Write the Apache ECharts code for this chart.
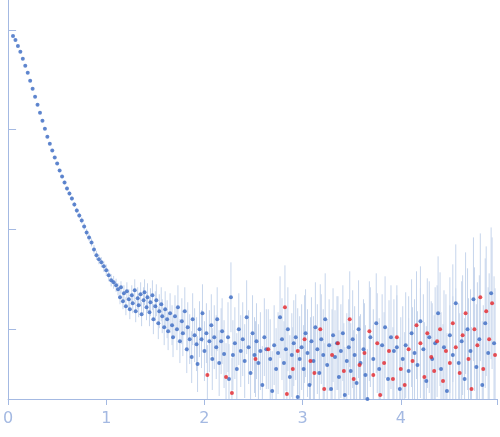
<!DOCTYPE html>
<html><head><meta charset="utf-8">
<script src="https://cdn.jsdelivr.net/npm/echarts@6/dist/echarts.min.js"></script>
<style>html,body{margin:0;padding:0;background:#fff}#c{width:500px;height:437px}</style>
</head><body><div id="c"></div>
<script>
const xTicks = [0,1,2,3,4];
const yTickValues = [0.7,1.7,2.7,3.7];
// [q, I, err]
const blueCurve = [[0.05,3.64,.005],[0.075,3.60,.005],[0.1,3.54,.005],[0.125,3.48,.005],[0.15,3.41,.006],[0.175,3.34,.006],[0.2,3.27,.006],[0.225,3.19,.007],[0.25,3.11,.007],[0.275,3.03,.008],[0.3,2.95,.008],[0.325,2.87,.009],[0.35,2.79,.01],[0.375,2.71,.01],[0.4,2.63,.011],[0.425,2.56,.012],[0.45,2.49,.013],[0.475,2.42,.014],[0.5,2.36,.015],[0.525,2.29,.016],[0.55,2.23,.017],[0.575,2.17,.018],[0.6,2.11,.02],[0.625,2.06,.021],[0.65,2.01,.023],[0.675,1.95,.025],[0.7,1.89,.027],[0.725,1.84,.029],[0.75,1.79,.031],[0.775,1.73,.033],[0.8,1.67,.035],[0.825,1.62,.038],[0.85,1.57,.04],[0.875,1.50,.043],[0.9,1.44,.046],[0.925,1.40,.049],[0.95,1.37,.052],[0.975,1.33,.055],[1.0,1.29,.058],[1.025,1.24,.06],[1.05,1.19,.062],[1.075,1.17,.064],[1.1,1.14,.066]];
const blueNoisy = [[1.12,1.10,.06],[1.14,1.02,.07],[1.15,1.12,.06],[1.17,0.98,.08],[1.18,1.06,.08],[1.20,0.93,.09],[1.21,1.08,.09],[1.23,1.00,.1],[1.24,0.90,.1],[1.26,1.04,.1],[1.27,0.96,.1],[1.29,1.09,.11],[1.30,0.88,.11],[1.32,1.01,.11],[1.33,0.94,.12],[1.35,1.05,.12],[1.36,0.85,.12],[1.38,0.99,.13],[1.39,1.07,.13],[1.41,0.92,.13],[1.42,1.02,.14],[1.44,0.87,.14],[1.45,0.97,.14],[1.47,1.04,.15],[1.48,0.80,.15],[1.50,0.93,.15],[1.51,0.99,.16],[1.53,0.76,.16],[1.54,0.88,.17],[1.56,0.95,.17],[1.57,0.83,.17],[1.59,0.72,.18],[1.60,0.90,.18],
[1.62,0.80,.19],[1.63,0.68,.19],[1.65,0.86,.2],[1.67,0.74,.2],[1.68,0.62,.2],[1.70,0.83,.21],[1.72,0.70,.21],[1.73,0.92,.22],[1.75,0.58,.22],[1.77,0.78,.23],[1.78,0.66,.23],[1.80,0.88,.24],[1.82,0.50,.24],[1.83,0.72,.25],[1.85,0.60,.25],[1.87,0.42,.26],[1.88,0.80,.26],[1.90,0.64,.27],[1.92,0.55,.27],[1.93,0.35,.28],[1.95,0.70,.28],[1.97,0.60,.29],[1.98,0.86,.29],[2.00,0.48,.3],[2.02,0.66,.3],[2.05,0.58,.31],[2.07,0.74,.31],[2.08,0.40,.31],[2.10,0.62,.32],[2.12,0.52,.32],[2.13,0.80,.32],[2.15,0.36,.33],[2.17,0.58,.33],[2.18,0.68,.33],[2.20,0.45,.34],
[2.24,0.62,.35],[2.25,0.20,.35],[2.27,1.02,.35],[2.29,0.44,.35],[2.31,0.56,.36],[2.33,0.30,.36],[2.35,0.70,.36],[2.37,0.48,.36],[2.39,0.60,.37],[2.41,0.38,.37],[2.43,0.82,.37],[2.45,0.52,.37],[2.47,0.26,.38],[2.49,0.66,.38],[2.51,0.44,.38],[2.53,0.58,.38],[2.55,0.36,.39],[2.57,0.48,.39],[2.59,0.14,.39],[2.61,0.62,.39],[2.63,0.50,.4],[2.67,0.40,.4],[2.69,0.08,.4],[2.71,0.54,.4],[2.73,0.30,.41],[2.75,0.46,.41],[2.77,0.82,.41],[2.79,0.60,.41],[2.81,0.36,.42],[2.83,0.50,.42],[2.85,0.70,.42],[2.87,0.22,.42],[2.89,0.44,.42],[2.91,0.56,.43],[2.93,0.62,.43],[2.95,0.02,.43],[2.97,0.40,.43],[2.99,0.52,.43],[3.01,0.30,.44],[3.03,0.66,.44],[3.05,0.46,.44],[3.07,0.14,.44],[3.09,0.58,.44],[3.11,0.38,.45],[3.13,0.72,.45],[3.15,0.50,.45],[3.17,0.26,.45],[3.19,0.60,.45],[3.21,0.44,.46],[3.23,0.80,.46],[3.25,0.34,.46],[3.27,0.54,.46],[3.29,0.10,.46],[3.31,0.64,.47],[3.33,0.42,.47],[3.35,0.56,.47],[3.37,0.22,.47],[3.39,0.48,.47],[3.41,0.66,.48],[3.43,0.04,.48],[3.45,0.38,.48],[3.47,0.52,.48],[3.49,0.28,.48],[3.51,0.60,.49],[3.53,0.44,.49],[3.55,0.16,.49],[3.57,0.70,.49],[3.59,0.36,.49],[3.62,0.50,.5],[3.64,0.24,.5],[3.66,0.00,.5],[3.69,0.62,.5],[3.72,0.40,.5],[3.75,0.76,.5],[3.78,0.30,.51],[3.81,0.54,.51],[3.84,0.72,.51],[3.87,0.20,.51],[3.90,0.62,.52],[3.93,0.48,.52],[3.96,0.52,.52],[3.99,0.10,.52],[4.02,0.40,.53],[4.05,0.54,.53],[4.08,0.28,.53],[4.11,0.66,.54],[4.14,0.46,.54],[4.17,0.34,.54],[4.20,0.78,.55],[4.23,0.50,.55],[4.26,0.18,.55],[4.29,0.62,.56],[4.32,0.40,.56],[4.35,0.56,.56],[4.38,0.86,.57],[4.41,0.30,.57],[4.44,0.52,.57],[4.47,0.08,.58],[4.50,0.64,.58],[4.53,0.44,.59],[4.56,0.96,.59],[4.59,0.36,.6],[4.62,0.58,.6],[4.65,0.20,.61],[4.68,0.70,.61],[4.71,0.48,.62],[4.74,1.00,.62],[4.77,0.32,.63],[4.80,0.60,.64],[4.83,0.14,.64],[4.86,0.76,.65],[4.89,0.46,.66],[4.92,1.06,.66],[4.95,0.56,.67]];
const redPoints = [[2.03,0.24,.3],[2.22,0.22,.34],[2.28,0.06,.35],[2.52,0.40,.38],[2.65,0.50,.4],[2.82,0.92,.42],[2.84,0.05,.42],[2.90,0.30,.42],[2.95,0.48,.43],[3.02,0.60,.44],[3.08,0.38,.44],[3.12,0.26,.45],[3.18,0.70,.45],[3.22,0.10,.46],[3.30,0.44,.46],[3.36,0.56,.47],[3.42,0.28,.48],[3.48,0.80,.48],[3.52,0.20,.49],[3.58,0.34,.49],[3.63,0.46,.5],[3.68,0.68,.5],[3.72,0.24,.5],[3.76,0.56,.5],[3.79,0.04,.51],[3.83,0.36,.51],[3.88,0.48,.51],[3.92,0.20,.52],[3.96,0.62,.52],[4.00,0.30,.52],[4.04,0.14,.53],[4.08,0.50,.53],[4.12,0.38,.54],[4.16,0.74,.54],[4.20,0.56,.55],[4.24,0.22,.55],[4.27,0.66,.55],[4.31,0.42,.56],[4.34,0.28,.56],[4.37,0.58,.56],[4.40,0.70,.57],[4.43,0.18,.57],[4.46,0.48,.57],[4.50,0.36,.58],[4.53,0.76,.59],[4.56,0.52,.59],[4.60,0.26,.6],[4.63,0.64,.6],[4.66,0.86,.61],[4.69,0.40,.61],[4.72,0.10,.62],[4.75,0.70,.62],[4.78,0.54,.63],[4.81,1.02,.64],[4.84,0.30,.64],[4.87,0.88,.65],[4.90,0.60,.66],[4.93,0.96,.66],[4.96,0.44,.67]];

const bluePts = blueCurve.concat(blueNoisy);
const allPts = bluePts.concat(redPoints);
const axisCol = '#a4b9e2';
const chart = echarts.init(document.getElementById('c'));
function errItem(params, api){
  const x = api.value(0), y = api.value(1), e = api.value(2);
  const p1 = api.coord([x, y - e]), p2 = api.coord([x, y + e]);
  return {type:'line', shape:{x1:p1[0],y1:p1[1],x2:p2[0],y2:p2[1]}, style:{stroke:'#c6d5ec', lineWidth:1}};
}
chart.setOption({
  animation:false,
  grid:{left:4, right:0, top:0, bottom:38, containLabel:false},
  xAxis:{type:'value', min:0, max:4.98, interval:1,
    axisLine:{lineStyle:{color:axisCol}}, axisTick:{lineStyle:{color:axisCol}, length:6},
    axisLabel:{color:axisCol, fontSize:16, fontFamily:'DejaVu Sans', margin:12,
      formatter:v=> xTicks.includes(v)? String(v):''},
    splitLine:{show:false}},
  yAxis:{type:'value', min:0, max:4,
    axisLine:{show:true, lineStyle:{color:axisCol}},
    axisTick:{show:true, inside:true, length:8, customValues:yTickValues, lineStyle:{color:axisCol}},
    axisLabel:{show:false}, splitLine:{show:false}},
  series:[
    {type:'custom', renderItem:errItem, data:allPts, clip:true, z:1},
    {type:'scatter', data:bluePts.map(p=>[p[0],p[1]]), symbolSize:4, itemStyle:{color:'#3b6ac3'}, z:3},
    {type:'scatter', data:redPoints.map(p=>[p[0],p[1]]), symbolSize:4, itemStyle:{color:'#e5262b'}, z:4}
  ]
});
</script></body></html>
